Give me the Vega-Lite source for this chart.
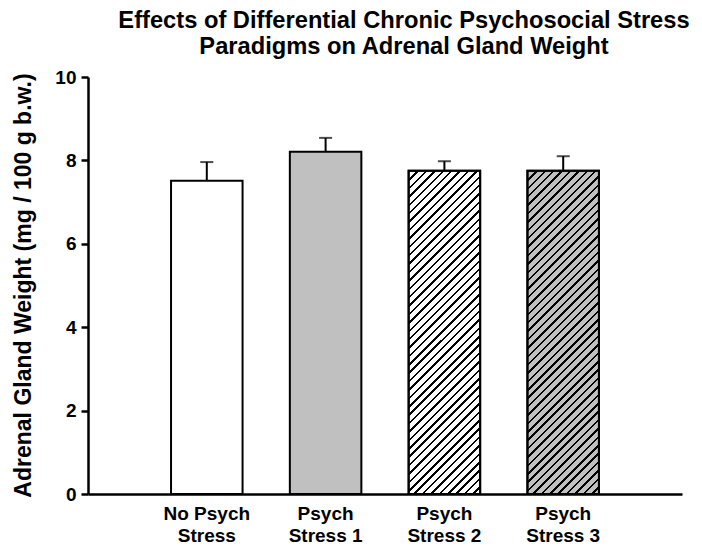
{
  "$schema": "https://vega.github.io/schema/vega-lite/v6.json",
  "width": 594,
  "height": 417,
  "autosize": {"type": "none"},
  "padding": {"left": 88, "top": 77, "right": 20, "bottom": 54},
  "background": "white",
  "config": {
    "font": "Liberation Sans",
    "view": {"stroke": null},
    "axis": {"grid": false, "domainColor": "black", "domainWidth": 2.5, "tickColor": "black", "labelColor": "black", "titleColor": "black", "labelFont": "Liberation Sans", "titleFont": "Liberation Sans", "labelFontWeight": "bold", "titleFontWeight": "bold"}
  },
  "title": {
    "text": ["Effects of Differential Chronic Psychosocial Stress", "Paradigms on Adrenal Gland Weight"],
    "font": "Liberation Sans",
    "fontSize": 23.7,
    "fontWeight": "bold",
    "color": "black",
    "anchor": "middle",
    "dx": 19,
    "offset": 9,
    "lineHeight": 26
  },
  "data": {
    "values": [
      {"group": "No Psych Stress", "mean": 7.51, "upper": 7.96},
      {"group": "Psych Stress 1", "mean": 8.21, "upper": 8.54},
      {"group": "Psych Stress 2", "mean": 7.75, "upper": 7.98},
      {"group": "Psych Stress 3", "mean": 7.75, "upper": 8.1}
    ]
  },
  "encoding": {
    "x": {
      "field": "group",
      "type": "nominal",
      "sort": null,
      "scale": {"paddingInner": 0.398, "paddingOuter": 0.699},
      "axis": {
        "title": null,
        "labelAngle": 0,
        "ticks": false,
        "labelFontSize": 19,
        "labelPadding": 10,
        "labelLineHeight": 22,
        "labelExpr": "datum.label == 'No Psych Stress' ? ['No Psych', 'Stress'] : ['Psych', replace(datum.label, 'Psych ', '')]"
      }
    }
  },
  "layer": [
    {
      "mark": {"type": "bar", "stroke": "black", "strokeWidth": 2},
      "encoding": {
        "y": {
          "field": "mean",
          "type": "quantitative",
          "scale": {"domain": [0, 10]},
          "axis": {
            "title": "Adrenal Gland Weight (mg / 100 g b.w.)",
            "titleFontSize": 23,
            "titleAngle": -90,
            "titleX": -58,
            "titleY": 208,
            "titleAlign": "center",
            "titleBaseline": "alphabetic",
            "values": [0, 2, 4, 6, 8, 10],
            "labelFontSize": 19,
            "labelPadding": 5,
            "tickSize": 7,
            "tickWidth": 2.5
          }
        },
        "color": {
          "field": "group",
          "type": "nominal",
          "legend": null,
          "scale": {"domain": ["No Psych Stress", "Psych Stress 1", "Psych Stress 2", "Psych Stress 3"], "range": ["#ffffff", "#c0c0c0", "#ffffff", "#c0c0c0"]}
        }
      }
    },
    {
      "transform": [{"filter": "datum.group == 'Psych Stress 2' || datum.group == 'Psych Stress 3'"}],
      "mark": {
        "type": "bar",
        "stroke": "black",
        "strokeWidth": 2,
        "fill": {
          "gradient": "linear",
          "x1": 0, "y1": 0, "x2": 0.2576, "y2": 1.1642,
          "stops": [
            {"offset": 0, "color": "#000000"}, {"offset": 0.0063, "color": "#000000"}, {"offset": 0.0063, "color": "rgba(0,0,0,0)"}, {"offset": 0.02128, "color": "rgba(0,0,0,0)"},
            {"offset": 0.02128, "color": "#000000"}, {"offset": 0.02758, "color": "#000000"}, {"offset": 0.02758, "color": "rgba(0,0,0,0)"}, {"offset": 0.04255, "color": "rgba(0,0,0,0)"},
            {"offset": 0.04255, "color": "#000000"}, {"offset": 0.04885, "color": "#000000"}, {"offset": 0.04885, "color": "rgba(0,0,0,0)"}, {"offset": 0.06383, "color": "rgba(0,0,0,0)"},
            {"offset": 0.06383, "color": "#000000"}, {"offset": 0.07013, "color": "#000000"}, {"offset": 0.07013, "color": "rgba(0,0,0,0)"}, {"offset": 0.08511, "color": "rgba(0,0,0,0)"},
            {"offset": 0.08511, "color": "#000000"}, {"offset": 0.09141, "color": "#000000"}, {"offset": 0.09141, "color": "rgba(0,0,0,0)"}, {"offset": 0.10638, "color": "rgba(0,0,0,0)"},
            {"offset": 0.10638, "color": "#000000"}, {"offset": 0.11268, "color": "#000000"}, {"offset": 0.11268, "color": "rgba(0,0,0,0)"}, {"offset": 0.12766, "color": "rgba(0,0,0,0)"},
            {"offset": 0.12766, "color": "#000000"}, {"offset": 0.13396, "color": "#000000"}, {"offset": 0.13396, "color": "rgba(0,0,0,0)"}, {"offset": 0.14894, "color": "rgba(0,0,0,0)"},
            {"offset": 0.14894, "color": "#000000"}, {"offset": 0.15524, "color": "#000000"}, {"offset": 0.15524, "color": "rgba(0,0,0,0)"}, {"offset": 0.17021, "color": "rgba(0,0,0,0)"},
            {"offset": 0.17021, "color": "#000000"}, {"offset": 0.17651, "color": "#000000"}, {"offset": 0.17651, "color": "rgba(0,0,0,0)"}, {"offset": 0.19149, "color": "rgba(0,0,0,0)"},
            {"offset": 0.19149, "color": "#000000"}, {"offset": 0.19779, "color": "#000000"}, {"offset": 0.19779, "color": "rgba(0,0,0,0)"}, {"offset": 0.21277, "color": "rgba(0,0,0,0)"},
            {"offset": 0.21277, "color": "#000000"}, {"offset": 0.21907, "color": "#000000"}, {"offset": 0.21907, "color": "rgba(0,0,0,0)"}, {"offset": 0.23404, "color": "rgba(0,0,0,0)"},
            {"offset": 0.23404, "color": "#000000"}, {"offset": 0.24034, "color": "#000000"}, {"offset": 0.24034, "color": "rgba(0,0,0,0)"}, {"offset": 0.25532, "color": "rgba(0,0,0,0)"},
            {"offset": 0.25532, "color": "#000000"}, {"offset": 0.26162, "color": "#000000"}, {"offset": 0.26162, "color": "rgba(0,0,0,0)"}, {"offset": 0.2766, "color": "rgba(0,0,0,0)"},
            {"offset": 0.2766, "color": "#000000"}, {"offset": 0.2829, "color": "#000000"}, {"offset": 0.2829, "color": "rgba(0,0,0,0)"}, {"offset": 0.29787, "color": "rgba(0,0,0,0)"},
            {"offset": 0.29787, "color": "#000000"}, {"offset": 0.30417, "color": "#000000"}, {"offset": 0.30417, "color": "rgba(0,0,0,0)"}, {"offset": 0.31915, "color": "rgba(0,0,0,0)"},
            {"offset": 0.31915, "color": "#000000"}, {"offset": 0.32545, "color": "#000000"}, {"offset": 0.32545, "color": "rgba(0,0,0,0)"}, {"offset": 0.34043, "color": "rgba(0,0,0,0)"},
            {"offset": 0.34043, "color": "#000000"}, {"offset": 0.34673, "color": "#000000"}, {"offset": 0.34673, "color": "rgba(0,0,0,0)"}, {"offset": 0.3617, "color": "rgba(0,0,0,0)"},
            {"offset": 0.3617, "color": "#000000"}, {"offset": 0.368, "color": "#000000"}, {"offset": 0.368, "color": "rgba(0,0,0,0)"}, {"offset": 0.38298, "color": "rgba(0,0,0,0)"},
            {"offset": 0.38298, "color": "#000000"}, {"offset": 0.38928, "color": "#000000"}, {"offset": 0.38928, "color": "rgba(0,0,0,0)"}, {"offset": 0.40426, "color": "rgba(0,0,0,0)"},
            {"offset": 0.40426, "color": "#000000"}, {"offset": 0.41056, "color": "#000000"}, {"offset": 0.41056, "color": "rgba(0,0,0,0)"}, {"offset": 0.42553, "color": "rgba(0,0,0,0)"},
            {"offset": 0.42553, "color": "#000000"}, {"offset": 0.43183, "color": "#000000"}, {"offset": 0.43183, "color": "rgba(0,0,0,0)"}, {"offset": 0.44681, "color": "rgba(0,0,0,0)"},
            {"offset": 0.44681, "color": "#000000"}, {"offset": 0.45311, "color": "#000000"}, {"offset": 0.45311, "color": "rgba(0,0,0,0)"}, {"offset": 0.46809, "color": "rgba(0,0,0,0)"},
            {"offset": 0.46809, "color": "#000000"}, {"offset": 0.47439, "color": "#000000"}, {"offset": 0.47439, "color": "rgba(0,0,0,0)"}, {"offset": 0.48936, "color": "rgba(0,0,0,0)"},
            {"offset": 0.48936, "color": "#000000"}, {"offset": 0.49566, "color": "#000000"}, {"offset": 0.49566, "color": "rgba(0,0,0,0)"}, {"offset": 0.51064, "color": "rgba(0,0,0,0)"},
            {"offset": 0.51064, "color": "#000000"}, {"offset": 0.51694, "color": "#000000"}, {"offset": 0.51694, "color": "rgba(0,0,0,0)"}, {"offset": 0.53191, "color": "rgba(0,0,0,0)"},
            {"offset": 0.53191, "color": "#000000"}, {"offset": 0.53821, "color": "#000000"}, {"offset": 0.53821, "color": "rgba(0,0,0,0)"}, {"offset": 0.55319, "color": "rgba(0,0,0,0)"},
            {"offset": 0.55319, "color": "#000000"}, {"offset": 0.55949, "color": "#000000"}, {"offset": 0.55949, "color": "rgba(0,0,0,0)"}, {"offset": 0.57447, "color": "rgba(0,0,0,0)"},
            {"offset": 0.57447, "color": "#000000"}, {"offset": 0.58077, "color": "#000000"}, {"offset": 0.58077, "color": "rgba(0,0,0,0)"}, {"offset": 0.59574, "color": "rgba(0,0,0,0)"},
            {"offset": 0.59574, "color": "#000000"}, {"offset": 0.60204, "color": "#000000"}, {"offset": 0.60204, "color": "rgba(0,0,0,0)"}, {"offset": 0.61702, "color": "rgba(0,0,0,0)"},
            {"offset": 0.61702, "color": "#000000"}, {"offset": 0.62332, "color": "#000000"}, {"offset": 0.62332, "color": "rgba(0,0,0,0)"}, {"offset": 0.6383, "color": "rgba(0,0,0,0)"},
            {"offset": 0.6383, "color": "#000000"}, {"offset": 0.6446, "color": "#000000"}, {"offset": 0.6446, "color": "rgba(0,0,0,0)"}, {"offset": 0.65957, "color": "rgba(0,0,0,0)"},
            {"offset": 0.65957, "color": "#000000"}, {"offset": 0.66587, "color": "#000000"}, {"offset": 0.66587, "color": "rgba(0,0,0,0)"}, {"offset": 0.68085, "color": "rgba(0,0,0,0)"},
            {"offset": 0.68085, "color": "#000000"}, {"offset": 0.68715, "color": "#000000"}, {"offset": 0.68715, "color": "rgba(0,0,0,0)"}, {"offset": 0.70213, "color": "rgba(0,0,0,0)"},
            {"offset": 0.70213, "color": "#000000"}, {"offset": 0.70843, "color": "#000000"}, {"offset": 0.70843, "color": "rgba(0,0,0,0)"}, {"offset": 0.7234, "color": "rgba(0,0,0,0)"},
            {"offset": 0.7234, "color": "#000000"}, {"offset": 0.7297, "color": "#000000"}, {"offset": 0.7297, "color": "rgba(0,0,0,0)"}, {"offset": 0.74468, "color": "rgba(0,0,0,0)"},
            {"offset": 0.74468, "color": "#000000"}, {"offset": 0.75098, "color": "#000000"}, {"offset": 0.75098, "color": "rgba(0,0,0,0)"}, {"offset": 0.76596, "color": "rgba(0,0,0,0)"},
            {"offset": 0.76596, "color": "#000000"}, {"offset": 0.77226, "color": "#000000"}, {"offset": 0.77226, "color": "rgba(0,0,0,0)"}, {"offset": 0.78723, "color": "rgba(0,0,0,0)"},
            {"offset": 0.78723, "color": "#000000"}, {"offset": 0.79353, "color": "#000000"}, {"offset": 0.79353, "color": "rgba(0,0,0,0)"}, {"offset": 0.80851, "color": "rgba(0,0,0,0)"},
            {"offset": 0.80851, "color": "#000000"}, {"offset": 0.81481, "color": "#000000"}, {"offset": 0.81481, "color": "rgba(0,0,0,0)"}, {"offset": 0.82979, "color": "rgba(0,0,0,0)"},
            {"offset": 0.82979, "color": "#000000"}, {"offset": 0.83609, "color": "#000000"}, {"offset": 0.83609, "color": "rgba(0,0,0,0)"}, {"offset": 0.85106, "color": "rgba(0,0,0,0)"},
            {"offset": 0.85106, "color": "#000000"}, {"offset": 0.85736, "color": "#000000"}, {"offset": 0.85736, "color": "rgba(0,0,0,0)"}, {"offset": 0.87234, "color": "rgba(0,0,0,0)"},
            {"offset": 0.87234, "color": "#000000"}, {"offset": 0.87864, "color": "#000000"}, {"offset": 0.87864, "color": "rgba(0,0,0,0)"}, {"offset": 0.89362, "color": "rgba(0,0,0,0)"},
            {"offset": 0.89362, "color": "#000000"}, {"offset": 0.89992, "color": "#000000"}, {"offset": 0.89992, "color": "rgba(0,0,0,0)"}, {"offset": 0.91489, "color": "rgba(0,0,0,0)"},
            {"offset": 0.91489, "color": "#000000"}, {"offset": 0.92119, "color": "#000000"}, {"offset": 0.92119, "color": "rgba(0,0,0,0)"}, {"offset": 0.93617, "color": "rgba(0,0,0,0)"},
            {"offset": 0.93617, "color": "#000000"}, {"offset": 0.94247, "color": "#000000"}, {"offset": 0.94247, "color": "rgba(0,0,0,0)"}, {"offset": 0.95745, "color": "rgba(0,0,0,0)"},
            {"offset": 0.95745, "color": "#000000"}, {"offset": 0.96375, "color": "#000000"}, {"offset": 0.96375, "color": "rgba(0,0,0,0)"}, {"offset": 0.97872, "color": "rgba(0,0,0,0)"},
            {"offset": 0.97872, "color": "#000000"}, {"offset": 0.98502, "color": "#000000"}, {"offset": 0.98502, "color": "rgba(0,0,0,0)"}, {"offset": 1, "color": "rgba(0,0,0,0)"}
          ]
        }
      },
      "encoding": {
        "y": {"field": "mean", "type": "quantitative"}
      }
    },
    {
      "mark": {"type": "rule", "color": "black", "strokeWidth": 2},
      "encoding": {
        "y": {"field": "mean", "type": "quantitative"},
        "y2": {"field": "upper"}
      }
    },
    {
      "mark": {"type": "tick", "color": "black", "thickness": 2, "size": 13, "orient": "horizontal"},
      "encoding": {
        "y": {"field": "upper", "type": "quantitative"}
      }
    }
  ]
}
